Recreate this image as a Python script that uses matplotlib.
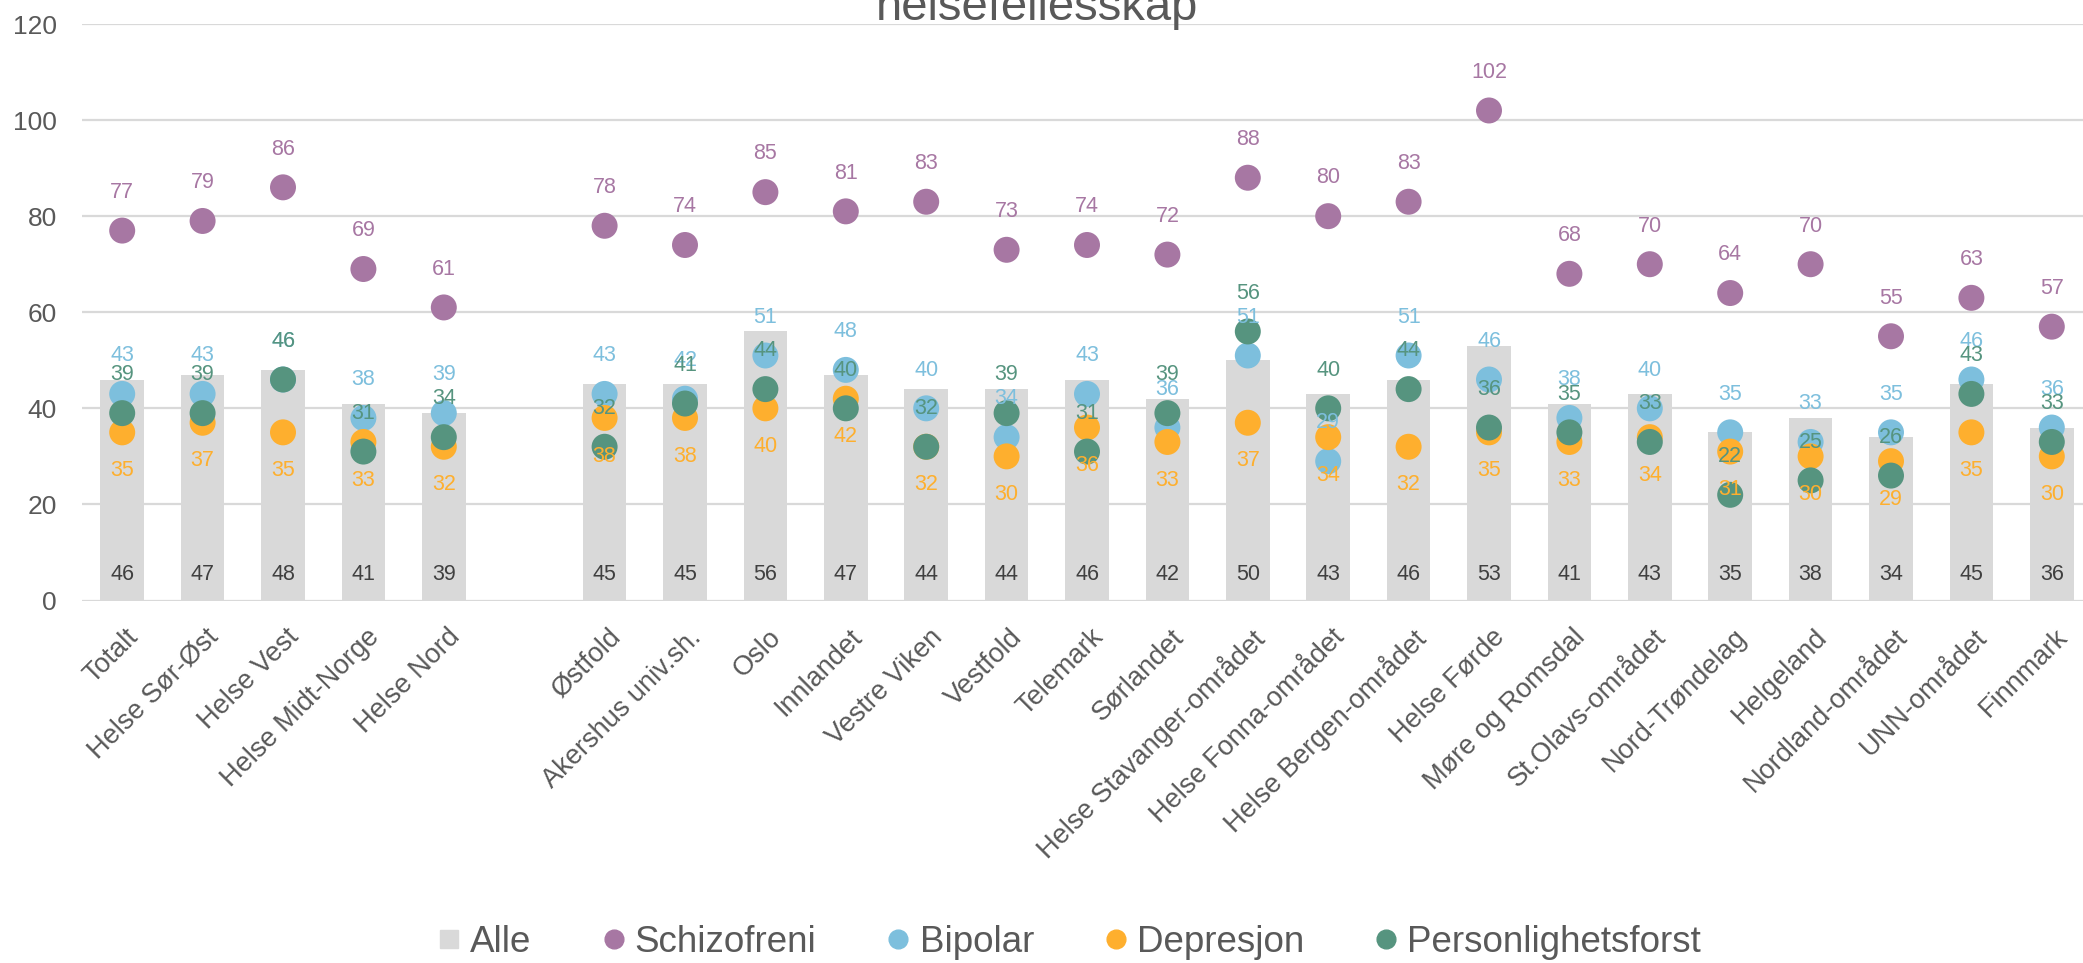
import matplotlib
matplotlib.use("Agg")
import matplotlib.pyplot as plt
from matplotlib.lines import Line2D
import matplotlib.transforms as mtransforms

plt.rcParams['font.family'] = ['Liberation Sans', 'DejaVu Sans']

categories = ["Totalt", "Helse Sør-Øst", "Helse Vest", "Helse Midt-Norge", "Helse Nord",
              "",
              "Østfold", "Akershus univ.sh.", "Oslo", "Innlandet", "Vestre Viken", "Vestfold",
              "Telemark", "Sørlandet", "Helse Stavanger-området", "Helse Fonna-området",
              "Helse Bergen-området", "Helse Førde", "Møre og Romsdal", "St.Olavs-området",
              "Nord-Trøndelag", "Helgeland", "Nordland-området", "UNN-området", "Finnmark"]

alle = [46, 47, 48, 41, 39, None,
        45, 45, 56, 47, 44, 44, 46, 42, 50, 43, 46, 53, 41, 43, 35, 38, 34, 45, 36]
schizofreni = [77, 79, 86, 69, 61, None,
               78, 74, 85, 81, 83, 73, 74, 72, 88, 80, 83, 102, 68, 70, 64, 70, 55, 63, 57]
bipolar = [43, 43, 46, 38, 39, None,
           43, 42, 51, 48, 40, 34, 43, 36, 51, 29, 51, 46, 38, 40, 35, 33, 35, 46, 36]
depresjon = [35, 37, 35, 33, 32, None,
             38, 38, 40, 42, 32, 30, 36, 33, 37, 34, 32, 35, 33, 34, 31, 30, 29, 35, 30]
personlighet = [39, 39, 46, 31, 34, None,
                32, 41, 44, 40, 32, 39, 31, 39, 56, 40, 44, 36, 35, 33, 22, 25, 26, 43, 33]

series = [("Schizofreni", schizofreni, "#A777A3", 1),
          ("Bipolar", bipolar, "#7DBFDD", 1),
          ("Depresjon", depresjon, "#FEAF2E", -1),
          ("Personlighetsforst", personlighet, "#56947F", 1)]
bar_color = "#D9D9D9"
text_gray = "#595959"

W, H = 2083, 963
fig = plt.figure(figsize=(W / 100, H / 100), dpi=100)
ax = fig.add_axes([82 / W, 1 - 600.5 / H, 2010 / W, 576.5 / H])

xs = list(range(len(categories)))

bx = [x for x, v in zip(xs, alle) if v is not None]
bv = [v for v in alle if v is not None]
ax.bar(bx, bv, width=0.54, color=bar_color, zorder=2)
for x, v in zip(bx, bv):
    ax.annotate(f"{v}", (x, 0), xytext=(0, 18.4), textcoords="offset points",
                ha="center", va="center", fontsize=15.5, color="#404040", zorder=6)

for name, vals, col, d in series:
    px = [x for x, v in zip(xs, vals) if v is not None]
    pv = [v for v in vals if v is not None]
    ax.scatter(px, pv, s=350, color=col, edgecolors="none", zorder=3)
    for x, v in zip(px, pv):
        ax.annotate(f"{v}", (x, v), xytext=(0, 27.5 * d), textcoords="offset points",
                    ha="center", va="center", fontsize=15.5, color=col, zorder=7)

ax.set_xlim(-0.5, len(categories) - 0.5)
ax.set_ylim(0, 120)
ax.set_yticks(range(0, 121, 20))
ax.yaxis.grid(True, color="#D9D9D9", linewidth=1.6, zorder=0)
ax.set_axisbelow(True)
for s in ax.spines.values():
    s.set_visible(False)
ax.tick_params(axis="y", length=0, pad=18, labelsize=19, labelcolor=text_gray)
ax.tick_params(axis="x", length=0, pad=17, labelsize=19.5, labelcolor=text_gray)

ax.set_xticks(xs)
ax.set_xticklabels(categories, rotation=45, ha="right", va="top",
                   rotation_mode="anchor")
offset = mtransforms.ScaledTranslation(3 / 100, 0, fig.dpi_scale_trans)
for lab in ax.get_xticklabels():
    lab.set_transform(lab.get_transform() + offset)

fig.text(1037 / W, 1 - 20 / H, "helsefellesskap", ha="center", va="baseline",
         fontsize=34, color=text_gray)

handles = [Line2D([], [], marker="s", ls="", color=bar_color, markersize=13.5)]
for name, vals, col, d in series:
    handles.append(Line2D([], [], marker="o", ls="", color=col, markersize=13.5))
labels = ["Alle"] + [s[0] for s in series]
leg = fig.legend(handles, labels, loc="center", bbox_to_anchor=(1070 / W, 1 - 942 / H),
                 ncol=5, frameon=False, fontsize=26.5, handlelength=0.55, handletextpad=0.3,
                 columnspacing=1.95, labelcolor=text_gray)

fig.savefig("out.png", dpi=100)
